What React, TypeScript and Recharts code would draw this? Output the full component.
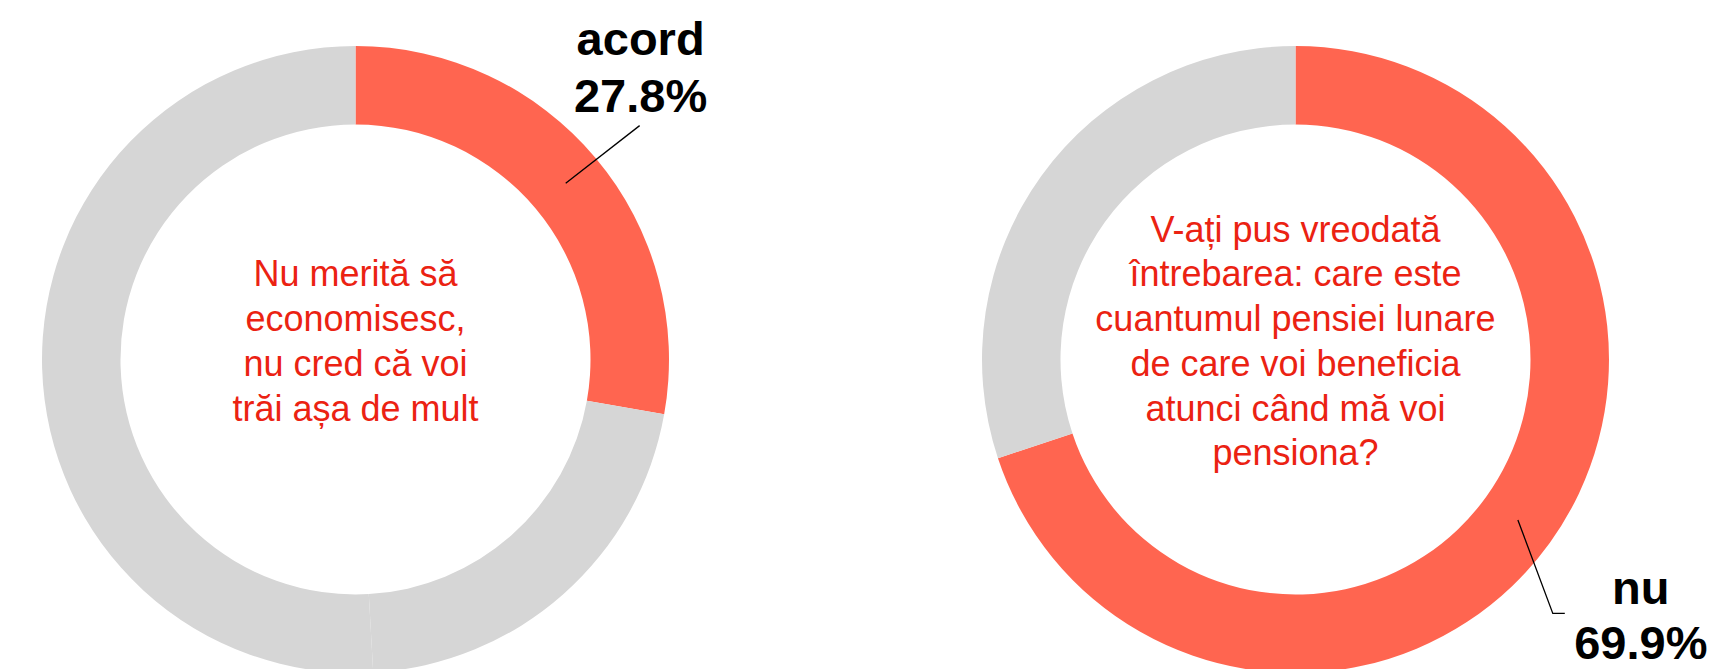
import React from 'react';
import { PieChart, Pie, Cell } from 'recharts';

const leftNames = ['acord', 'neutru', 'dezacord'];
const leftValues = [27.8, 21.3, 50.9];
const leftTitle = ['Nu merită să', 'economisesc,', 'nu cred că voi', 'trăi așa de mult'];

const rightNames = ['nu', 'da'];
const rightValues = [69.9, 30.1];
const rightTitle = [
  'V-ați pus vreodată',
  'întrebarea: care este',
  'cuantumul pensiei lunare',
  'de care voi beneficia',
  'atunci când mă voi',
  'pensiona?',
];

const leftData = leftNames.map((name, i) => ({ name, value: leftValues[i] }));
const rightData = rightNames.map((name, i) => ({ name, value: rightValues[i] }));

const RED = '#FF6550';
const GRAY = '#D6D6D6';
const TITLE_RED = '#EB2212';
const FONT = '"Liberation Sans", Arial, Helvetica, sans-serif';
const RAD = Math.PI / 180;

const polar = (cx: number, cy: number, r: number, angle: number) => ({
  x: cx + Math.cos(-angle * RAD) * r,
  y: cy + Math.sin(-angle * RAD) * r,
});

const labelStyle = { fontFamily: FONT, fontWeight: 700, fontSize: 47, fill: '#000' } as const;

const CenterText = ({ cx, cy, lines }: { cx: number; cy: number; lines: string[] }) => {
  const lh = 44.7;
  const first = cy - 6 - ((lines.length - 1) / 2) * lh;
  return (
    <text textAnchor="middle" style={{ fontFamily: FONT, fontSize: 36, fill: TITLE_RED }}>
      {lines.map((l, i) => (
        <tspan key={i} x={cx} y={first + i * lh}>{l}</tspan>
      ))}
    </text>
  );
};

const LeftLabel = (props: any) => {
  const { cx, cy, midAngle, innerRadius, outerRadius, index, name, value } = props;
  if (index !== 0) return null;
  const s = polar(cx, cy, (innerRadius + outerRadius) / 2, midAngle);
  const e = polar(cx, cy, 368, midAngle - 0.5);
  return (
    <g>
      <CenterText cx={cx} cy={cy} lines={leftTitle} />
      <line x1={s.x} y1={s.y} x2={e.x} y2={e.y} stroke="#000" strokeWidth={1.3} />
      <text x={e.x + 1} y={e.y - 71} textAnchor="middle" style={labelStyle}>{name}</text>
      <text x={e.x + 1} y={e.y - 14} textAnchor="middle" style={labelStyle}>{value.toFixed(1)}%</text>
    </g>
  );
};

const RightLabel = (props: any) => {
  const { cx, cy, midAngle, innerRadius, outerRadius, index, name, value } = props;
  if (index !== 0) return null;
  const s = polar(cx, cy, (innerRadius + outerRadius) / 2, midAngle);
  const m = polar(cx, cy, 361.5, midAngle - 8.8);
  const endX = m.x + 12;
  return (
    <g>
      <CenterText cx={cx} cy={cy} lines={rightTitle} />
      <polyline points={`${s.x},${s.y} ${m.x},${m.y} ${endX},${m.y}`} fill="none" stroke="#000" strokeWidth={1.3} />
      <text x={endX + 76} y={m.y - 9} textAnchor="middle" style={labelStyle}>{name}</text>
      <text x={endX + 76} y={m.y + 46} textAnchor="middle" style={labelStyle}>{value.toFixed(1)}%</text>
    </g>
  );
};

export default function App() {
  return (
    <div style={{ position: 'absolute', left: 0, top: 0, width: 1711, height: 669, background: '#fff' }}>
      <PieChart width={1711} height={669} margin={{ top: 0, right: 0, bottom: 0, left: 0 }}>
        <Pie
          data={leftData}
          dataKey="value"
          nameKey="name"
          cx={355.5}
          cy={359.5}
          innerRadius={235}
          outerRadius={313.5}
          startAngle={90}
          endAngle={-270}
          stroke="none"
          isAnimationActive={false}
          label={LeftLabel}
          labelLine={false}
        >
          {leftData.map((d, i) => (
            <Cell key={d.name} fill={i === 0 ? RED : GRAY} />
          ))}
        </Pie>
        <Pie
          data={rightData}
          dataKey="value"
          nameKey="name"
          cx={1295.5}
          cy={359.5}
          innerRadius={235}
          outerRadius={313.5}
          startAngle={90}
          endAngle={-270}
          stroke="none"
          isAnimationActive={false}
          label={RightLabel}
          labelLine={false}
        >
          {rightData.map((d, i) => (
            <Cell key={d.name} fill={i === 0 ? RED : GRAY} />
          ))}
        </Pie>
      </PieChart>
    </div>
  );
}
